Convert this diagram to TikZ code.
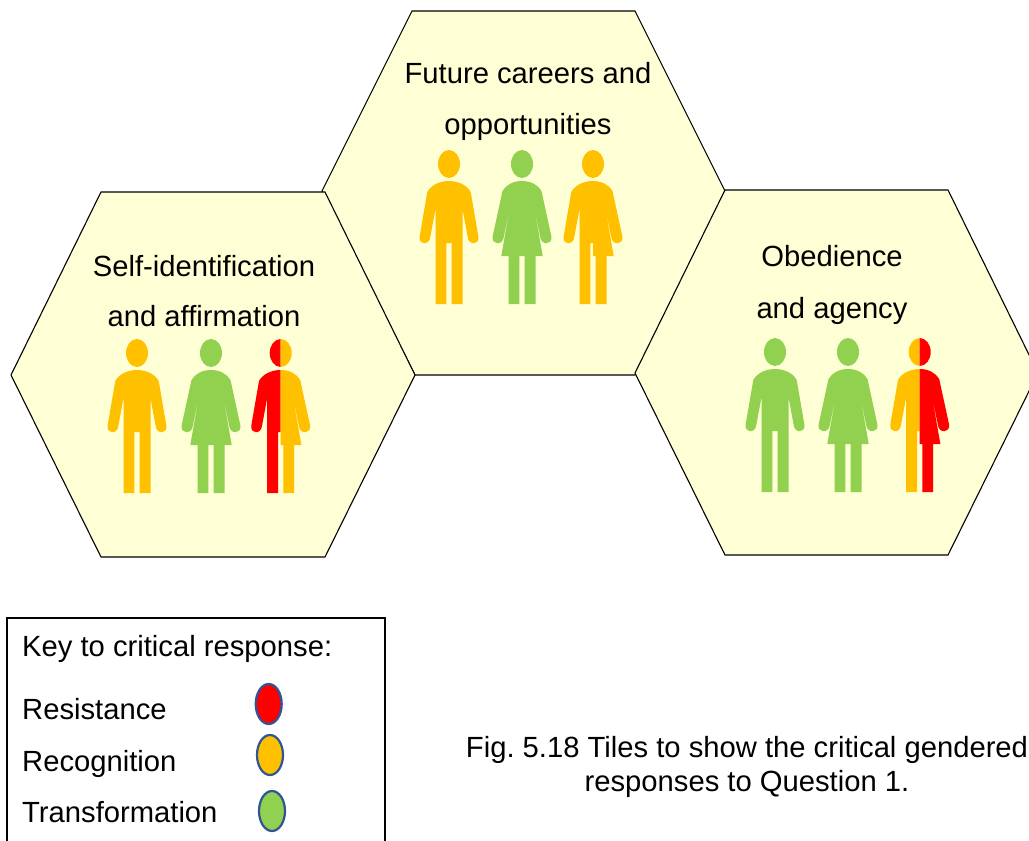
\documentclass[tikz,border=0pt]{standalone}
\usepackage{fontspec}
\setmainfont{Liberation Sans}
\usepackage{xcolor}
\usetikzlibrary{shapes.geometric}
\definecolor{tilefill}{HTML}{FFFFD5}
\definecolor{resist}{HTML}{FF0000}
\definecolor{recog}{HTML}{FFC000}
\definecolor{transf}{HTML}{92D050}
\definecolor{keyline}{HTML}{2F5597}
\tikzset{tile/.style={draw=black,fill=tilefill,line width=1.1pt,line join=miter}}
\tikzset{label/.style={font=\fontsize{29.2}{34}\selectfont,inner sep=0pt,text=black,anchor=base}}
\tikzset{keylabel/.style={label,anchor=base west}}
\tikzset{keydot/.style={ellipse,draw=keyline,line width=2.2pt,minimum width=26pt,minimum height=40pt,inner sep=0pt}}
% the outlines start at the top of the head, x=0 is the middle of the figure
\newcommand{\headshape}{(0,14) ellipse [x radius=11,y radius=14]}
\newcommand{\manshape}{\headshape
  (0,31) .. controls (9,31) and (18,35) .. (21.7,42)
  -- (29.3,86) .. controls (31,95.5) and (19.5,95.5) .. (18.7,87)
  -- (13.5,59) -- (13.5,154) -- (2.7,154) -- (2.7,93) -- (-2.7,93) -- (-2.7,154) -- (-13.5,154) -- (-13.5,59)
  -- (-18.7,87) .. controls (-19.5,95.5) and (-31,95.5) .. (-29.3,86)
  -- (-21.7,42) .. controls (-18,35) and (-9,31) .. (0,31) -- cycle}
\newcommand{\womanshape}{\headshape
  (0,31) .. controls (9,31) and (16,35) .. (19.5,41)
  -- (29.3,86) .. controls (31,95.5) and (19,95.5) .. (18.2,87)
  -- (11.3,52.7) -- (20.7,106) -- (13.5,106) -- (13.5,154) -- (2.7,154) -- (2.7,106) -- (-2.7,106) -- (-2.7,154) -- (-13.5,154) -- (-13.5,106) -- (-20.7,106)
  -- (-11.3,52.7) -- (-18.2,87) .. controls (-19,95.5) and (-31,95.5) .. (-29.3,86)
  -- (-19.5,41) .. controls (-16,35) and (-9,31) .. (0,31) -- cycle}
\tikzset{
  man/.pic={\fill[pic actions] \manshape;},
  woman/.pic={\fill[pic actions] \womanshape;},
  mixed/.pic={
    \begin{scope}
      \clip (-40,-2) rectangle (0,160);
      \fill[pic actions] \manshape;
    \end{scope}
    \begin{scope}
      \clip (0,-2) rectangle (40,160);
      \fill[fill=\tikzpictextoptions] \womanshape;
    \end{scope}
  }
}
\begin{document}
\begin{tikzpicture}[x=1pt,y=-1pt]
\useasboundingbox (0,0) rectangle (1029,841);
\begin{scope}
\clip (0,0) rectangle (1029,841);
% tiles
\draw[tile] (322,191) -- (412,11) -- (635,11) -- (725,191) -- (635,375) -- (415,375) -- cycle;
\draw[tile] (11,375) -- (101,192) -- (325,192) -- (415,375) -- (325,557) -- (101,557) -- cycle;
\draw[tile] (635,373) -- (725,190) -- (948,190) -- (1038,373) -- (948,555) -- (725,555) -- cycle;
\end{scope}
% tile titles
\node (future) [label] at (528,83) {Future careers and};
\node (oppor) [label] at (528,134) {opportunities};
\node (selfid) [label] at (204,276) {Self-identification};
\node (affirm) [label] at (204,326) {and affirmation};
\node (obed) [label] at (832,266) {Obedience};
\node (agency) [label] at (832,318) {and agency};
% figures
\pic[fill=recog] at (449,150) {man};
\pic[fill=transf] at (522,150) {woman};
\pic[fill=recog,pic text options={recog}] at (593,150) {mixed};
\pic[fill=recog] at (137,339) {man};
\pic[fill=transf] at (211,339) {woman};
\pic[fill=resist,pic text options={recog}] at (280.7,339) {mixed};
\pic[fill=transf] at (775,338) {man};
\pic[fill=transf] at (848,338) {woman};
\pic[fill=recog,pic text options={resist}] at (919.7,338) {mixed};
% key
\draw[black,line width=1.3pt] (7,845) -- (7,618) -- (385,618) -- (385,845);
\node (keyhead) [keylabel] at (22,656) {Key to critical response:};
\node (keyresist) [keylabel] at (22,719) {Resistance};
\node (keyrecog) [keylabel] at (22,771) {Recognition};
\node (keytransf) [keylabel] at (22,822) {Transformation};
\node (dotresist) [keydot,fill=resist] at (268.7,704) {};
\node (dotrecog) [keydot,fill=recog] at (270,755) {};
\node (dottransf) [keydot,fill=transf] at (272,811) {};
% caption
\node (figa) [label] at (747,757) {Fig.\ 5.18 Tiles to show the critical gendered};
\node (figb) [label] at (747,791) {responses to Question 1.};
\end{tikzpicture}
\end{document}
